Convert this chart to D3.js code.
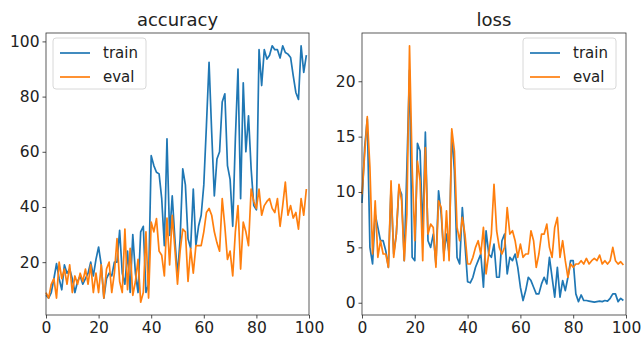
<!DOCTYPE html>
<html>
<head>
<meta charset="utf-8">
<script src="https://cdn.jsdelivr.net/npm/d3@7"></script>
<style>
  html, body { margin: 0; padding: 0; background: #fff; }
  svg { display: block; font-family: "DejaVu Sans", sans-serif; }
</style>
</head>
<body>
<div id="chart"></div>
<script>
// epochs 0..99
const epochs = d3.range(100);

const accTrain = [8, 7, 9, 14, 19.5, 14, 10, 19, 16, 17.5,
  14, 9, 13, 15, 12, 14, 16, 20, 15, 21,
  25.5, 19, 7, 14, 16, 15, 20, 20, 31.5, 16,
  12, 24, 9, 30, 16, 9, 31, 33, 9, 12,
  58.6, 55, 52.6, 52, 43, 26, 64.7, 29.7, 44, 28.5,
  15, 28.5, 53.8, 48, 28.5, 25, 46.5, 26, 33, 37,
  48, 69.5, 92.4, 67, 44, 57.4, 60, 78, 81, 55,
  50, 33, 64.7, 90, 43, 85, 60, 73, 53.8, 40.5,
  39, 97, 84, 97, 93.6, 95, 98.4, 97, 97, 94,
  98.4, 96, 95.4, 94.2, 87.6, 81.5, 79, 98.4, 88.8, 95];

const accEval = [9, 7, 12, 14, 7, 20, 14, 17.5, 12, 19,
  9, 15, 12, 16, 13, 17.5, 12, 19, 9, 16,
  9, 19, 7, 17.5, 20, 9, 16, 28.5, 13, 9,
  32, 10, 25, 8, 13, 21, 5.5, 9, 31, 7,
  34.5, 31, 35.8, 24, 22.5, 15, 36, 19, 37, 25,
  12, 24, 32, 31, 13, 25, 16, 26, 26, 26,
  31, 38, 39.5, 37, 31, 27, 24, 43, 33, 21,
  24, 15, 31, 40.5, 17.5, 34.5, 31, 26, 46.5, 42,
  39.5, 46.5, 37, 40.5, 42, 43, 39.5, 38, 43, 33,
  40.5, 49, 37, 40.5, 36, 38, 32, 43, 37, 46.5];

const lossTrain = [9, 14, 16.6, 5, 3.5, 8, 6.8, 5.6, 5.6, 4.7,
  3.2, 10.4, 4.4, 6.2, 10.4, 9.8, 3.8, 12.2, 21, 4.1,
  3.8, 14.4, 13.7, 6.2, 15.4, 5.6, 5, 6.2, 3.5, 10.1,
  8, 4.4, 6.2, 4.4, 15.4, 11.9, 4.1, 3.5, 8.6, 5.3,
  1.9, 1.8, 2.3, 3.2, 3.8, 4.4, 1.4, 6.5, 4.4, 4.1,
  5.3, 2.3, 2.3, 5.6, 6.2, 2.6, 4.1, 3.8, 4.4, 3.2,
  1.4, 0.2, 1.1, 2.3, 2, 1.4, 0.8, 0.8, 1.7, 2.3,
  1.7, 4.1, 2.3, 0.5, 3.2, 0.5, 2, 1.1, 2.3, 3.8,
  3.8, 0.8, 0.1, 0.7, 0.2, 0.2, 0.15, 0.1, 0.05, 0.1,
  0.15, 0.1, 0.2, 0.15, 0.4, 0.8, 0.8, 0.1, 0.4, 0.2];

const lossEval = [9.8, 13.4, 16.8, 12.2, 4.4, 9.2, 4.1, 5.6, 4.4, 4.4,
  3.2, 11, 4.1, 6.2, 10.7, 9.2, 3.8, 8, 23.2, 12.2,
  5.6, 12.8, 11, 3.8, 14, 6.2, 7.1, 6.8, 3.2, 9.2,
  8.6, 3.8, 8.3, 3.8, 15.7, 13.7, 6.8, 5.6, 7.7, 6.2,
  3.5, 3.5, 4.1, 5, 5.6, 4.4, 6.8, 2.6, 4.4, 6.2,
  10.7, 6.5, 5, 4.4, 5, 8.6, 6.2, 6.5, 5.6, 4.1,
  5.3, 4.1, 4.4, 4.4, 6.5, 5.6, 3.2, 4.4, 6.2, 6.2,
  7.1, 5, 4.1, 6.8, 7.7, 4.1, 5.6, 3.8, 2.3, 3.5,
  3.2, 3.5, 3.5, 3.8, 3.5, 4, 3.5, 3.8, 4, 3.8,
  4.3, 3.5, 3.8, 3.5, 3.8, 5, 3.8, 3.5, 3.7, 3.4];

const xTicks = [0, 20, 40, 60, 80, 100];
const accTicks = [20, 40, 60, 80, 100];
const lossTicks = [0, 5, 10, 15, 20];
const seriesNames = ['train', 'eval'];
const colors = ['#1f77b4', '#ff7f0e'];

const W = 641, H = 338;
const svg = d3.select('#chart').append('svg').attr('width', W).attr('height', H);

function panel(opts) {
  const { left, right, top, bottom, title, series, yTicks, legendX } = opts;

  // matplotlib-style 5% margin on the y data range
  const all = series.flat();
  const [lo, hi] = d3.extent(all);
  const pad = (hi - lo) * 0.05;

  const x = d3.scaleLinear().domain([0, 100]).range([left, right]);
  const y = d3.scaleLinear().domain([lo - pad, hi + pad]).range([bottom, top]);

  const g = svg.append('g');

  const line = d3.line()
    .x((d, i) => x(epochs[i]))
    .y(d => y(d));

  series.forEach((s, i) => {
    g.append('path')
      .datum(s)
      .attr('fill', 'none')
      .attr('stroke', colors[i])
      .attr('stroke-width', 1.7)
      .attr('stroke-linejoin', 'round')
      .attr('d', line);
  });

  // axes
  const xAxis = d3.axisBottom(x).tickValues(xTicks).tickSize(3.5).tickPadding(3);
  const yAxis = d3.axisLeft(y).tickValues(yTicks).tickSize(3.5).tickPadding(3);

  const gx = g.append('g').attr('transform', `translate(0,${bottom})`).call(xAxis);
  const gy = g.append('g').attr('transform', `translate(${left},0)`).call(yAxis);
  [gx, gy].forEach(a => {
    a.select('.domain').remove();
    a.selectAll('.tick line').attr('stroke', '#222').attr('stroke-width', 0.8);
    a.selectAll('.tick text')
      .attr('fill', '#222')
      .style('font-size', '15.5px')
      .style('font-family', '"DejaVu Sans", sans-serif');
  });

  // frame
  g.append('rect')
    .attr('x', left).attr('y', top)
    .attr('width', right - left).attr('height', bottom - top)
    .attr('fill', 'none').attr('stroke', '#333').attr('stroke-width', 0.8);

  // title
  g.append('text')
    .attr('x', (left + right) / 2)
    .attr('y', top - 7)
    .attr('text-anchor', 'middle')
    .attr('fill', '#222')
    .style('font-size', '18px')
    .text(title);

  // legend
  const lg = g.append('g').attr('transform', `translate(${legendX},${top + 5})`);
  lg.append('rect')
    .attr('width', 93).attr('height', 51)
    .attr('rx', 3)
    .attr('fill', 'rgba(255,255,255,0.8)')
    .attr('stroke', '#d8d8d8');
  seriesNames.forEach((name, i) => {
    const yy = 15 + i * 24;
    lg.append('line')
      .attr('x1', 7).attr('x2', 37)
      .attr('y1', yy).attr('y2', yy)
      .attr('stroke', colors[i]).attr('stroke-width', 1.7);
    lg.append('text')
      .attr('x', 50).attr('y', yy + 5)
      .attr('fill', '#222')
      .style('font-size', '15px')
      .text(name);
  });
}

panel({
  left: 46, right: 309, top: 33, bottom: 315,
  title: 'accuracy', series: [accTrain, accEval], yTicks: accTicks, legendX: 53
});

panel({
  left: 362, right: 626, top: 33, bottom: 315,
  title: 'loss', series: [lossTrain, lossEval], yTicks: lossTicks, legendX: 523
});
</script>
</body>
</html>
